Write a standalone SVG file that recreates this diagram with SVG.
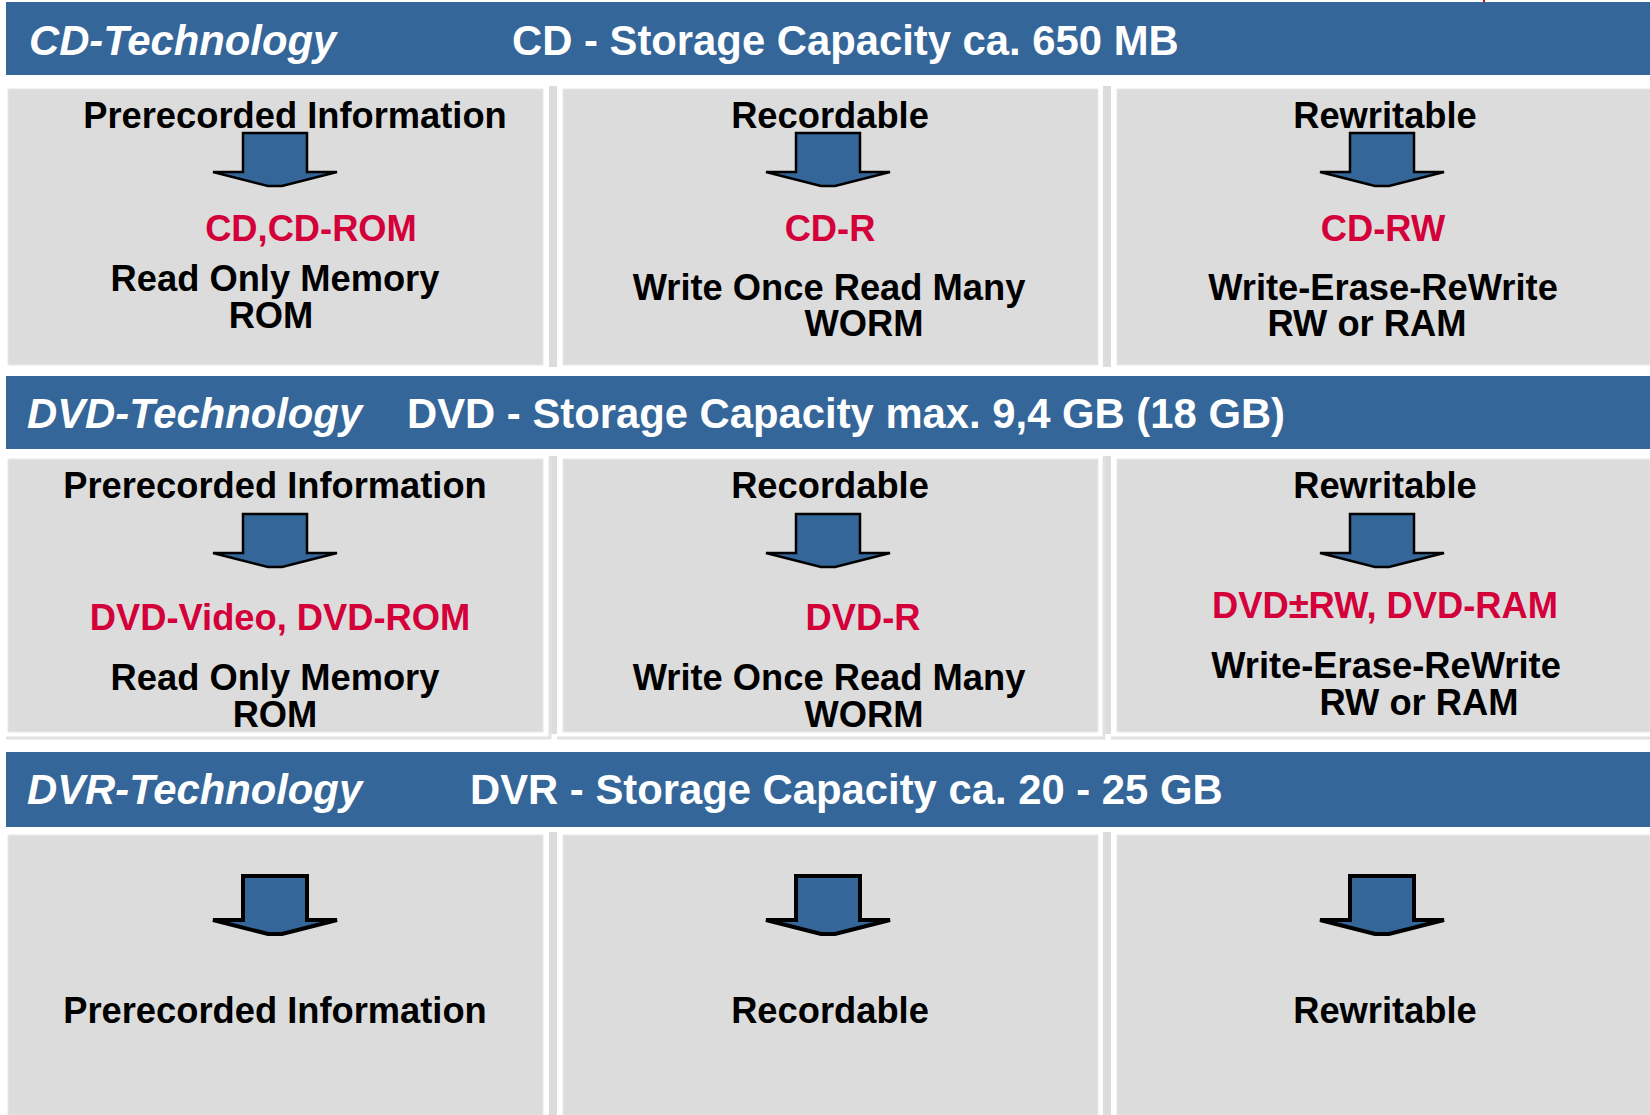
<svg xmlns="http://www.w3.org/2000/svg" width="1650" height="1115" viewBox="0 0 1650 1115">
<defs>
<style>
.hdr{fill:#346699}
.panel{fill:#dcdcdc;stroke:#e8e8e8;stroke-width:1}
.stripe{fill:#dcdcdc}
.frame{fill:none;stroke:#e2e2e2;stroke-width:3}
.ht{font-family:"Liberation Sans",Arial,sans-serif;font-weight:bold;font-size:41.8px;fill:#ffffff}
.hi{font-style:italic}
.t{font-family:"Liberation Sans",Arial,sans-serif;font-weight:bold;font-size:36.3px;fill:#000000;text-anchor:middle}
.r{fill:#d4003a}
.arrow{fill:#346699;stroke:#000000;stroke-width:2.5;stroke-linejoin:miter}
.arrow2{fill:#346699;stroke:#000000;stroke-width:4;stroke-linejoin:miter}
</style>
<path id="arw" d="M-32,0 H32 V39 H62 L7,53 H-7 L-62,39 H-32 Z"/>
<path id="arw3" d="M-32,0 H32 V44 H62 L7,58 H-7 L-62,44 H-32 Z"/>
</defs>
<rect width="1650" height="1115" fill="#ffffff"/>
<rect x="1483" y="0" width="2" height="3" fill="#e00000"/>

<g id="header-cd">
<rect class="hdr" x="6" y="2" width="1644" height="73"/>
<text class="ht hi" x="29" y="55">CD-Technology</text>
<text class="ht" x="512" y="55">CD - Storage Capacity ca. 650 MB</text>
</g>
<g id="header-dvd">
<rect class="hdr" x="6" y="376" width="1644" height="73"/>
<text class="ht hi" x="27" y="428">DVD-Technology</text>
<text class="ht" x="407" y="428">DVD - Storage Capacity max. 9,4 GB (18 GB)</text>
</g>
<g id="header-dvr">
<rect class="hdr" x="6" y="752" width="1644" height="75"/>
<text class="ht hi" x="27" y="804">DVR-Technology</text>
<text class="ht" x="470" y="804">DVR - Storage Capacity ca. 20 - 25 GB</text>
</g>

<g id="frames">
<rect class="stripe" x="549" y="86" width="8" height="281"/>
<rect class="stripe" x="1103" y="86" width="8" height="281"/>
<rect class="stripe" x="549" y="456" width="8" height="278"/>
<rect class="stripe" x="1103" y="456" width="8" height="278"/>
<path class="frame" d="M6,738 H550 V458 M557,738 H1104 V458 M1111,738 H1650"/>
<rect class="stripe" x="549" y="832" width="8" height="283"/>
<rect class="stripe" x="1103" y="832" width="8" height="283"/>
</g>

<g id="cd-prerecorded">
<rect class="panel" x="8" y="89" width="535" height="276"/>
<text class="t" x="295" y="128">Prerecorded Information</text>
<use href="#arw" class="arrow" x="275" y="133"/>
<text class="t r" x="311" y="241">CD,CD-ROM</text>
<text class="t" x="275" y="291">Read Only Memory</text>
<text class="t" x="271" y="328">ROM</text>
</g>
<g id="cd-recordable">
<rect class="panel" x="563" y="89" width="535" height="276"/>
<text class="t" x="830" y="128">Recordable</text>
<use href="#arw" class="arrow" x="828" y="133"/>
<text class="t r" x="830" y="241">CD-R</text>
<text class="t" x="829" y="300">Write Once Read Many</text>
<text class="t" x="864" y="336">WORM</text>
</g>
<g id="cd-rewritable">
<rect class="panel" x="1117" y="89" width="533" height="276"/>
<text class="t" x="1385" y="128">Rewritable</text>
<use href="#arw" class="arrow" x="1382" y="133"/>
<text class="t r" x="1383" y="241">CD-RW</text>
<text class="t" x="1383" y="300">Write-Erase-ReWrite</text>
<text class="t" x="1367" y="336">RW or RAM</text>
</g>

<g id="dvd-prerecorded">
<rect class="panel" x="8" y="459" width="535" height="273"/>
<text class="t" x="275" y="498">Prerecorded Information</text>
<use href="#arw" class="arrow" x="275" y="514"/>
<text class="t r" x="280" y="630">DVD-Video, DVD-ROM</text>
<text class="t" x="275" y="690">Read Only Memory</text>
<text class="t" x="275" y="727">ROM</text>
</g>
<g id="dvd-recordable">
<rect class="panel" x="563" y="459" width="535" height="273"/>
<text class="t" x="830" y="498">Recordable</text>
<use href="#arw" class="arrow" x="828" y="514"/>
<text class="t r" x="863" y="630">DVD-R</text>
<text class="t" x="829" y="690">Write Once Read Many</text>
<text class="t" x="864" y="727">WORM</text>
</g>
<g id="dvd-rewritable">
<rect class="panel" x="1117" y="459" width="533" height="273"/>
<text class="t" x="1385" y="498">Rewritable</text>
<use href="#arw" class="arrow" x="1382" y="514"/>
<text class="t r" x="1385" y="618">DVD±RW, DVD-RAM</text>
<text class="t" x="1386" y="678">Write-Erase-ReWrite</text>
<text class="t" x="1419" y="715">RW or RAM</text>
</g>

<g id="dvr-prerecorded">
<rect class="panel" x="8" y="835" width="535" height="280"/>
<use href="#arw3" class="arrow2" x="275" y="876"/>
<text class="t" x="275" y="1023">Prerecorded Information</text>
</g>
<g id="dvr-recordable">
<rect class="panel" x="563" y="835" width="535" height="280"/>
<use href="#arw3" class="arrow2" x="828" y="876"/>
<text class="t" x="830" y="1023">Recordable</text>
</g>
<g id="dvr-rewritable">
<rect class="panel" x="1117" y="835" width="533" height="280"/>
<use href="#arw3" class="arrow2" x="1382" y="876"/>
<text class="t" x="1385" y="1023">Rewritable</text>
</g>
</svg>
